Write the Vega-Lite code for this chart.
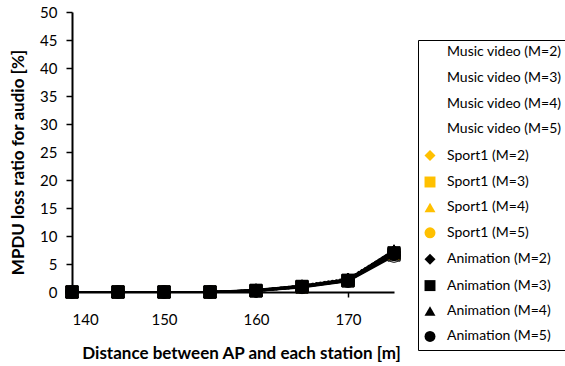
{
  "$schema": "https://vega.github.io/schema/vega-lite/v6.json",
  "width": 322,
  "height": 280,
  "autosize": {"type": "none"},
  "padding": {"left": 72, "top": 12, "right": 171, "bottom": 74},
  "background": "white",
  "config": {
    "view": {"stroke": null},
    "font": "Lato",
    "axis": {
      "grid": false,
      "domainColor": "black",
      "domainWidth": 2,
      "tickColor": "black",
      "tickWidth": 1.5,
      "labelColor": "black",
      "titleColor": "black",
      "labelFont": "Lato",
      "titleFont": "Lato",
      "labelFontSize": 15,
      "titleFontSize": 17,
      "titleFontWeight": "bold"
    }
  },
  "data": {
    "values": [
      {"series": "Music video (M=2)", "distance": 140, "loss": 0},
      {"series": "Music video (M=2)", "distance": 145, "loss": 0},
      {"series": "Music video (M=2)", "distance": 150, "loss": 0},
      {"series": "Music video (M=2)", "distance": 155, "loss": 0},
      {"series": "Music video (M=2)", "distance": 160, "loss": 0.3},
      {"series": "Music video (M=2)", "distance": 165, "loss": 1.0},
      {"series": "Music video (M=2)", "distance": 170, "loss": 2.2},
      {"series": "Music video (M=2)", "distance": 175, "loss": 7.0},
      {"series": "Music video (M=3)", "distance": 140, "loss": 0},
      {"series": "Music video (M=3)", "distance": 145, "loss": 0},
      {"series": "Music video (M=3)", "distance": 150, "loss": 0},
      {"series": "Music video (M=3)", "distance": 155, "loss": 0},
      {"series": "Music video (M=3)", "distance": 160, "loss": 0.2},
      {"series": "Music video (M=3)", "distance": 165, "loss": 0.9},
      {"series": "Music video (M=3)", "distance": 170, "loss": 2.0},
      {"series": "Music video (M=3)", "distance": 175, "loss": 6.6},
      {"series": "Music video (M=4)", "distance": 140, "loss": 0},
      {"series": "Music video (M=4)", "distance": 145, "loss": 0},
      {"series": "Music video (M=4)", "distance": 150, "loss": 0},
      {"series": "Music video (M=4)", "distance": 155, "loss": 0},
      {"series": "Music video (M=4)", "distance": 160, "loss": 0.3},
      {"series": "Music video (M=4)", "distance": 165, "loss": 1.1},
      {"series": "Music video (M=4)", "distance": 170, "loss": 2.3},
      {"series": "Music video (M=4)", "distance": 175, "loss": 7.3},
      {"series": "Music video (M=5)", "distance": 140, "loss": 0},
      {"series": "Music video (M=5)", "distance": 145, "loss": 0},
      {"series": "Music video (M=5)", "distance": 150, "loss": 0},
      {"series": "Music video (M=5)", "distance": 155, "loss": 0},
      {"series": "Music video (M=5)", "distance": 160, "loss": 0.2},
      {"series": "Music video (M=5)", "distance": 165, "loss": 0.8},
      {"series": "Music video (M=5)", "distance": 170, "loss": 1.9},
      {"series": "Music video (M=5)", "distance": 175, "loss": 6.4},
      {"series": "Sport1 (M=2)", "distance": 140, "loss": 0},
      {"series": "Sport1 (M=2)", "distance": 145, "loss": 0},
      {"series": "Sport1 (M=2)", "distance": 150, "loss": 0},
      {"series": "Sport1 (M=2)", "distance": 155, "loss": 0},
      {"series": "Sport1 (M=2)", "distance": 160, "loss": 0.3},
      {"series": "Sport1 (M=2)", "distance": 165, "loss": 1.0},
      {"series": "Sport1 (M=2)", "distance": 170, "loss": 2.1},
      {"series": "Sport1 (M=2)", "distance": 175, "loss": 7.1},
      {"series": "Sport1 (M=3)", "distance": 140, "loss": 0},
      {"series": "Sport1 (M=3)", "distance": 145, "loss": 0},
      {"series": "Sport1 (M=3)", "distance": 150, "loss": 0},
      {"series": "Sport1 (M=3)", "distance": 155, "loss": 0},
      {"series": "Sport1 (M=3)", "distance": 160, "loss": 0.2},
      {"series": "Sport1 (M=3)", "distance": 165, "loss": 0.9},
      {"series": "Sport1 (M=3)", "distance": 170, "loss": 2.0},
      {"series": "Sport1 (M=3)", "distance": 175, "loss": 6.8},
      {"series": "Sport1 (M=4)", "distance": 140, "loss": 0},
      {"series": "Sport1 (M=4)", "distance": 145, "loss": 0},
      {"series": "Sport1 (M=4)", "distance": 150, "loss": 0},
      {"series": "Sport1 (M=4)", "distance": 155, "loss": 0},
      {"series": "Sport1 (M=4)", "distance": 160, "loss": 0.3},
      {"series": "Sport1 (M=4)", "distance": 165, "loss": 1.2},
      {"series": "Sport1 (M=4)", "distance": 170, "loss": 2.4},
      {"series": "Sport1 (M=4)", "distance": 175, "loss": 7.4},
      {"series": "Sport1 (M=5)", "distance": 140, "loss": 0},
      {"series": "Sport1 (M=5)", "distance": 145, "loss": 0},
      {"series": "Sport1 (M=5)", "distance": 150, "loss": 0},
      {"series": "Sport1 (M=5)", "distance": 155, "loss": 0},
      {"series": "Sport1 (M=5)", "distance": 160, "loss": 0.2},
      {"series": "Sport1 (M=5)", "distance": 165, "loss": 0.9},
      {"series": "Sport1 (M=5)", "distance": 170, "loss": 2.1},
      {"series": "Sport1 (M=5)", "distance": 175, "loss": 6.9},
      {"series": "Animation (M=2)", "distance": 140, "loss": 0},
      {"series": "Animation (M=2)", "distance": 145, "loss": 0},
      {"series": "Animation (M=2)", "distance": 150, "loss": 0},
      {"series": "Animation (M=2)", "distance": 155, "loss": 0},
      {"series": "Animation (M=2)", "distance": 160, "loss": 0.4},
      {"series": "Animation (M=2)", "distance": 165, "loss": 1.1},
      {"series": "Animation (M=2)", "distance": 170, "loss": 2.3},
      {"series": "Animation (M=2)", "distance": 175, "loss": 7.2},
      {"series": "Animation (M=3)", "distance": 140, "loss": 0},
      {"series": "Animation (M=3)", "distance": 145, "loss": 0},
      {"series": "Animation (M=3)", "distance": 150, "loss": 0},
      {"series": "Animation (M=3)", "distance": 155, "loss": 0},
      {"series": "Animation (M=3)", "distance": 160, "loss": 0.3},
      {"series": "Animation (M=3)", "distance": 165, "loss": 1.0},
      {"series": "Animation (M=3)", "distance": 170, "loss": 2.1},
      {"series": "Animation (M=3)", "distance": 175, "loss": 7.0},
      {"series": "Animation (M=4)", "distance": 140, "loss": 0},
      {"series": "Animation (M=4)", "distance": 145, "loss": 0},
      {"series": "Animation (M=4)", "distance": 150, "loss": 0},
      {"series": "Animation (M=4)", "distance": 155, "loss": 0},
      {"series": "Animation (M=4)", "distance": 160, "loss": 0.3},
      {"series": "Animation (M=4)", "distance": 165, "loss": 1.1},
      {"series": "Animation (M=4)", "distance": 170, "loss": 2.2},
      {"series": "Animation (M=4)", "distance": 175, "loss": 7.5},
      {"series": "Animation (M=5)", "distance": 140, "loss": 0},
      {"series": "Animation (M=5)", "distance": 145, "loss": 0},
      {"series": "Animation (M=5)", "distance": 150, "loss": 0},
      {"series": "Animation (M=5)", "distance": 155, "loss": 0},
      {"series": "Animation (M=5)", "distance": 160, "loss": 0.2},
      {"series": "Animation (M=5)", "distance": 165, "loss": 0.9},
      {"series": "Animation (M=5)", "distance": 170, "loss": 2.0},
      {"series": "Animation (M=5)", "distance": 175, "loss": 6.7}
    ]
  },
  "encoding": {
    "x": {
      "field": "distance",
      "type": "quantitative",
      "scale": {"domain": [140, 175], "nice": false, "zero": false},
      "axis": {
        "title": "Distance between AP and each station [m]",
        "values": [140, 150, 160, 170],
        "tickSize": 5,
        "labelPadding": 15,
        "titleX": 169,
        "titleY": 61,
        "titleBaseline": "middle",
        "titleAlign": "center"
      }
    },
    "y": {
      "field": "loss",
      "type": "quantitative",
      "scale": {"domain": [0, 50], "nice": false},
      "axis": {
        "title": "MPDU loss ratio for audio [%]",
        "values": [0, 5, 10, 15, 20, 25, 30, 35, 40, 45, 50],
        "tickSize": 6,
        "labelPadding": 9,
        "titleAngle": -90,
        "titleX": -54,
        "titleY": 150,
        "titleBaseline": "middle",
        "titleAlign": "center"
      }
    }
  },
  "layer": [
    {
      "transform": [{"filter": "indexof(datum.series, 'Sport1') < 0"}],
      "mark": {"type": "line", "color": "black", "strokeWidth": 2},
      "encoding": {
        "detail": {"field": "series", "type": "nominal"}
      }
    },
    {
      "transform": [{"filter": "indexof(datum.series, 'Sport1') >= 0"}],
      "mark": {"type": "line", "color": "black", "strokeWidth": 2, "strokeDash": [2, 2]},
      "encoding": {
        "detail": {"field": "series", "type": "nominal"}
      }
    },
    {
      "mark": {"type": "point", "filled": true, "stroke": "black", "strokeWidth": 1, "size": 150, "opacity": 1},
      "encoding": {
        "shape": {
          "field": "series",
          "type": "nominal",
          "scale": {
            "domain": ["Music video (M=2)", "Music video (M=3)", "Music video (M=4)", "Music video (M=5)", "Sport1 (M=2)", "Sport1 (M=3)", "Sport1 (M=4)", "Sport1 (M=5)", "Animation (M=2)", "Animation (M=3)", "Animation (M=4)", "Animation (M=5)"],
            "range": ["diamond", "square", "triangle-up", "circle", "diamond", "square", "triangle-up", "circle", "diamond", "square", "triangle-up", "circle"]
          },
          "legend": {
            "title": null,
            "orient": "none",
            "legendX": 346,
            "legendY": 28,
            "padding": 5,
            "strokeColor": "black",
            "symbolSize": 120,
            "symbolStrokeColor": "black",
            "symbolStrokeWidth": 1.5,
            "symbolOpacity": 1,
            "rowPadding": 8.4,
            "labelOffset": 10,
            "labelFont": "Lato",
            "labelFontSize": 14,
            "labelColor": "black",
            "labelLimit": 300
          }
        },
        "fill": {
          "field": "series",
          "type": "nominal",
          "scale": {
            "domain": ["Music video (M=2)", "Music video (M=3)", "Music video (M=4)", "Music video (M=5)", "Sport1 (M=2)", "Sport1 (M=3)", "Sport1 (M=4)", "Sport1 (M=5)", "Animation (M=2)", "Animation (M=3)", "Animation (M=4)", "Animation (M=5)"],
            "range": ["white", "white", "white", "white", "#FFC000", "#FFC000", "#FFC000", "#FFC000", "black", "black", "black", "black"]
          },
          "legend": {
            "title": null,
            "orient": "none",
            "legendX": 346,
            "legendY": 28,
            "padding": 5,
            "strokeColor": "black",
            "symbolSize": 120,
            "symbolStrokeColor": "black",
            "symbolStrokeWidth": 1.5,
            "symbolOpacity": 1,
            "rowPadding": 8.4,
            "labelOffset": 10,
            "labelFont": "Lato",
            "labelFontSize": 14,
            "labelColor": "black",
            "labelLimit": 300
          }
        }
      }
    }
  ]
}
